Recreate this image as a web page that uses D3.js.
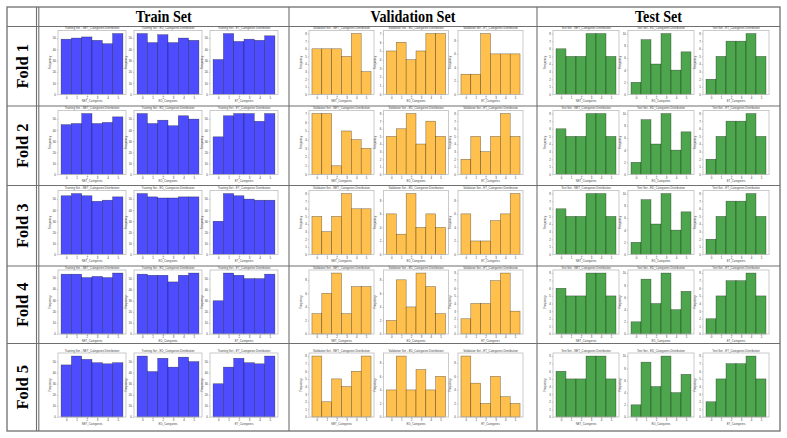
<!DOCTYPE html>
<html>
<head>
<meta charset="utf-8">
<script src="https://cdn.jsdelivr.net/npm/d3@7"></script>
<style>
  body { margin: 0; background: #fff; }
  svg { display: block; }
  .tick text { font-family: "Liberation Sans", sans-serif; fill: #333; }
</style>
</head>
<body>
<div id="chart"></div>
<script>
// table labels
const folds = ["Fold 1", "Fold 2", "Fold 3", "Fold 4", "Fold 5"];
const setNames = ["Train Set", "Validation Set", "Test Set"];
const setPrefix = ["Training Set", "Validation Set", "Test Set"];
const catNames = ["NET_Categories", "ED_Categories", "ET_Categories"];
const bins = [0, 1, 2, 3, 4, 5];

// counts per category bin, one row per fold
const trainNET = [[49, 50, 51, 48, 45, 54], [45, 46, 55, 46, 47, 52], [53, 55, 53, 48, 49, 52], [53, 53, 50, 51, 50, 54], [47, 55, 52, 49, 48, 49]];
const trainED  = [[54, 46, 53, 46, 50, 48], [55, 46, 49, 44, 53, 50], [55, 52, 51, 51, 52, 52], [54, 53, 53, 47, 53, 55], [55, 41, 53, 45, 54, 50]];
const trainET  = [[31, 54, 47, 49, 48, 52], [34, 53, 55, 55, 48, 55], [30, 55, 53, 50, 49, 49], [30, 55, 53, 50, 50, 54], [30, 45, 53, 49, 48, 55]];
const valNET = [[6, 6, 6, 5, 8, 3], [7, 7, 1, 5, 4, 3], [5, 3, 5, 8, 6, 6], [3, 6, 9, 3, 7, 7], [8, 2, 5, 4, 6, 8]];
const valED  = [[5, 6, 4, 5, 7, 7], [5, 6, 8, 4, 7, 5], [6, 3, 9, 4, 6, 4], [2, 8, 4, 9, 7, 3], [4, 9, 4, 7, 4, 6]];
const valET  = [[3, 3, 9, 6, 6, 6], [2, 5, 3, 5, 8, 5], [6, 2, 2, 5, 6, 9], [2, 4, 4, 7, 8, 3], [9, 5, 2, 6, 3, 2]];
// the test set is the same for every fold
const testNET = [6, 5, 5, 8, 8, 5];
const testED  = [2, 9, 5, 10, 4, 7];
const testET  = [2, 5, 7, 7, 8, 5];

const colors = ["#4d4dff", "#ffc04d", "#4da64d"];

const width = 787, height = 438;
const svg = d3.select("#chart").append("svg")
  .attr("width", width)
  .attr("height", height);

// table grid
const gridColor = "#6f6f6f";
const colX = [7, 38.5, 289, 537, 780];
const rowY = [7, 26.5, 106, 185.5, 266, 343.5, 431];

svg.append("rect")
  .attr("x", 7).attr("y", 7)
  .attr("width", 773).attr("height", 424)
  .attr("fill", "none").attr("stroke", gridColor).attr("stroke-width", 1.3);

[36.5, 38.8, 289, 537].forEach(x => {
  svg.append("line")
    .attr("x1", x).attr("x2", x).attr("y1", 7).attr("y2", 431)
    .attr("stroke", gridColor).attr("stroke-width", 1.1);
});
rowY.slice(1, 6).forEach(y => {
  svg.append("line")
    .attr("x1", 7).attr("x2", 780).attr("y1", y).attr("y2", y)
    .attr("stroke", gridColor).attr("stroke-width", 1.1);
});

// headers
setNames.forEach((s, i) => {
  const cx = (colX[i + 1] + colX[i + 2]) / 2;
  svg.append("text")
    .attr("transform", `translate(${cx},21.5) scale(0.86,1)`)
    .attr("text-anchor", "middle")
    .style("font-family", "'Liberation Serif', serif")
    .style("font-weight", "bold")
    .style("font-size", "16.5px")
    .text(s);
});

folds.forEach((f, i) => {
  const cy = (rowY[i + 1] + rowY[i + 2]) / 2;
  svg.append("text")
    .attr("transform", `translate(27.5,${cy}) rotate(-90)`)
    .attr("text-anchor", "middle")
    .style("font-family", "'Liberation Serif', serif")
    .style("font-weight", "bold")
    .style("font-size", "16.5px")
    .text(f);
});

// small histogram placement
const axLeft0 = [58, 309, 553];
const pitch = [76, 74.5, 75];
const axW = [68, 65, 66];
const axTop = [30.5, 110.5, 190.5, 270, 353];
const axH = 64;

function seriesFor(set, fold, cat) {
  if (set === 0) return [trainNET, trainED, trainET][cat][fold];
  if (set === 1) return [valNET, valED, valET][cat][fold];
  return [testNET, testED, testET][cat];
}

function drawHist(left, top, w, h, values, color, title, xlabel) {
  const g = svg.append("g").attr("transform", `translate(${left},${top})`);

  const x = d3.scaleLinear().domain([-0.8, 5.8]).range([0, w]);
  const y = d3.scaleLinear().domain([0, d3.max(values) * 1.05]).range([h, 0]);

  g.selectAll("rect.bar")
    .data(values)
    .enter().append("rect")
    .attr("class", "bar")
    .attr("x", (d, i) => x(bins[i] - 0.5))
    .attr("width", x(1) - x(0))
    .attr("y", d => y(d))
    .attr("height", d => h - y(d))
    .attr("fill", color)
    .attr("stroke", "#000")
    .attr("stroke-opacity", 0.55)
    .attr("stroke-width", 0.5);

  g.append("rect")
    .attr("width", w).attr("height", h)
    .attr("fill", "none").attr("stroke", "#bdbdbd").attr("stroke-width", 0.8);

  const xAxis = g.append("g")
    .attr("transform", `translate(0,${h})`)
    .call(d3.axisBottom(x).tickValues(bins).tickFormat(d3.format("d")).tickSize(1.2).tickPadding(1));
  const yAxis = g.append("g")
    .call(d3.axisLeft(y).ticks(6).tickFormat(d3.format("d")).tickSize(1.2).tickPadding(1));
  [xAxis, yAxis].forEach(a => {
    a.select(".domain").remove();
    a.selectAll("line").attr("stroke", "#888").attr("stroke-width", 0.4);
    a.selectAll("text").style("font-size", "2.8px");
  });

  g.append("text")
    .attr("x", w / 2).attr("y", -1.5)
    .attr("text-anchor", "middle")
    .style("font-family", "'Liberation Sans', sans-serif")
    .style("font-size", "2.9px")
    .attr("fill", "#444")
    .text(title);

  g.append("text")
    .attr("x", w / 2).attr("y", h + 7.5)
    .attr("text-anchor", "middle")
    .style("font-family", "'Liberation Sans', sans-serif")
    .style("font-size", "2.8px")
    .attr("fill", "#444")
    .text(xlabel);

  g.append("text")
    .attr("transform", `translate(-7.5,${h / 2}) rotate(-90)`)
    .attr("text-anchor", "middle")
    .style("font-family", "'Liberation Sans', sans-serif")
    .style("font-size", "2.8px")
    .attr("fill", "#444")
    .text("Frequency");
}

folds.forEach((f, fi) => {
  setNames.forEach((s, si) => {
    catNames.forEach((c, ci) => {
      drawHist(
        axLeft0[si] + ci * pitch[si], axTop[fi], axW[si], axH,
        seriesFor(si, fi, ci), colors[si],
        `${setPrefix[si]} - ${c} Distribution`,
        c
      );
    });
  });
});
</script>
</body>
</html>
